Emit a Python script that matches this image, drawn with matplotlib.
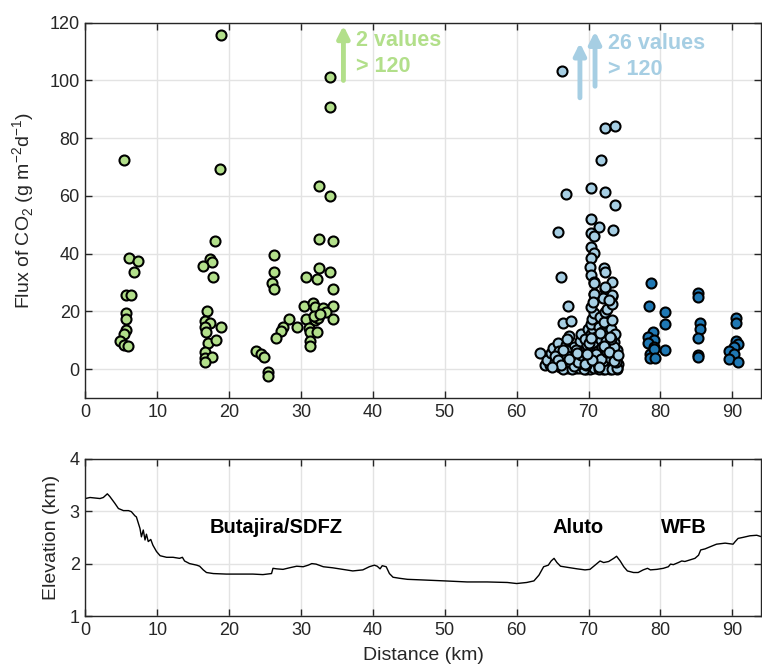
import numpy as np
import matplotlib
matplotlib.use("Agg")
import matplotlib.pyplot as plt

plt.rcParams['font.family'] = ['Liberation Sans', 'DejaVu Sans']
plt.rcParams['mathtext.fontset'] = 'custom'
plt.rcParams['mathtext.rm'] = 'Liberation Sans'

# --- CO2 flux, Butajira / SDFZ (green)
green_x = [18.9, 5.4, 18.8, 18.0, 6.1, 7.3, 6.7, 5.65, 6.4, 5.7, 5.7, 5.7, 5.4, 4.8, 5.4, 6.0,
           17.3, 17.6, 16.4, 17.8, 16.9, 16.7, 17.3, 18.9, 16.7, 16.8, 17.0, 18.2, 16.7, 16.7, 17.6, 16.7,
           34.1, 34.1, 32.5, 34.1, 32.5, 34.4, 26.3, 26.3, 32.5, 34.1, 30.7, 32.2, 25.9, 26.3, 34.4,
           30.4, 31.7, 32.0, 33.1, 34.4, 33.5, 30.7, 31.9, 32.5, 32.0, 34.4, 28.3, 27.5, 27.2, 29.4,
           26.5, 31.1, 31.2, 32.2, 31.2, 31.2, 23.8, 24.4, 24.9, 25.4, 25.4, 32.1, 32.4, 31.8, 32.7]
green_y = [115.9, 72.4, 69.2, 44.3, 38.4, 37.6, 33.7, 25.8, 25.8, 19.4, 17.3, 13.4, 12.0, 9.7, 8.2, 8.1,
           38.2, 37.0, 35.7, 31.8, 20.1, 16.6, 15.9, 14.7, 14.5, 12.7, 9.0, 10.2, 6.0, 3.7, 4.2, 2.3,
           101.3, 90.9, 63.4, 60.0, 45.0, 44.4, 39.7, 33.7, 35.2, 33.7, 31.8, 31.1, 29.8, 27.9, 27.9,
           22.0, 22.8, 21.5, 21.2, 22.0, 19.8, 17.3, 17.6, 18.7, 16.9, 17.3, 17.3, 14.7, 13.3, 14.7,
           10.7, 14.2, 12.9, 12.8, 9.6, 8.1, 6.3, 5.2, 4.2, -0.9, -2.3, 18.0, 17.8, 18.5, 19.0]

# --- CO2 flux, Aluto (light blue)
aluto_x = [66.25, 72.3, 73.7, 71.8, 66.8, 70.4, 72.3, 73.7, 70.4, 71.5, 65.7, 70.4, 70.7, 73.4,
           70.4, 70.7, 70.4, 70.2, 70.4, 70.7, 72.2, 72.3, 73.2, 72.3, 73.2, 70.7, 72.0, 66.2,
           67.1, 66.5, 67.6, 67.3, 70.8, 72.3, 70.7, 73.2,
           63.3, 64.0, 64.6, 64.2, 64.8, 65.0, 65.7, 65.4, 65.9, 66.3, 66.0, 66.6, 66.8, 67.0,
           66.8, 67.2, 67.5, 67.8, 68.0, 68.3, 68.5, 68.8, 68.9, 69.2, 69.0, 69.4, 69.6, 69.8,
           69.9, 70.0, 69.5,
           70.2, 70.3, 70.4, 70.5, 70.4, 70.6, 70.4, 70.5, 70.7, 70.4, 70.6, 70.3, 70.8, 70.9,
           71.0, 71.1, 71.2, 71.3, 71.4, 71.5, 71.6, 71.7, 71.8, 71.9, 72.0, 72.1, 72.2, 72.3,
           72.4, 72.5, 72.6, 72.7, 72.8, 72.9, 73.0, 73.1, 73.2, 73.3, 73.4, 73.5, 73.6, 73.7,
           73.8, 73.9, 74.0, 74.1, 73.2, 72.9,
           66.5, 67.7, 68.7, 69.3, 70.7, 71.5, 72.3, 73.3, 73.9, 65.3, 67.9, 69.1, 71.0, 72.6,
           73.6, 70.1, 71.3, 72.0, 73.0, 68.2, 69.7, 70.9, 72.4, 73.8, 66.9, 68.5, 70.6, 71.9,
           65.8, 66.2, 67.0, 67.4, 68.0, 68.6, 69.0, 69.9, 70.3, 71.1, 71.8, 72.5, 73.1, 73.7,
           64.9, 66.4, 67.3, 68.4, 69.5, 70.5, 71.4, 72.1, 72.8, 73.5, 74.1, 69.8, 71.6, 73.0]
aluto_y = [103.3, 83.7, 84.3, 72.4, 60.7, 62.6, 61.2, 56.9, 52.0, 49.3, 47.5, 47.1, 46.1, 48.2,
           42.2, 40.4, 38.4, 35.5, 32.6, 30.3, 34.9, 33.8, 30.3, 27.7, 25.4, 26.1, 24.6, 31.8,
           22.0, 16.1, 16.6, 11.5, 30.0, 28.6, 26.0, 25.7,
           5.7, 1.5, 1.5, 3.0, 5.5, 7.3, 9.0, 2.5, 6.2, 4.0, 0.8, 1.2, 8.5, 10.5,
           2.8, 0.5, 5.0, 2.0, 7.5, 0.3, 4.2, 9.8, 1.0, 6.0, 12.0, 3.2, 0.2, 8.3,
           14.0, 2.5, 10.5,
           0.1, 4.6, 7.0, 9.5, 12.0, 13.8, 15.5, 17.5, 19.5, 21.5, 23.3, 2.0, 5.8, 1.0,
           11.0, 3.5, 8.0, 0.4, 14.5, 6.5, 18.0, 2.2, 10.0, 12.8, 0.0, 4.8, 16.3, 19.8,
           7.2, 1.5, 21.0, 11.8, 3.0, 8.8, 0.2, 14.0, 5.2, 17.0, 2.0, 9.5, 0.5, 12.0,
           3.8, 6.8, 0.0, 1.8, 22.5, 24.0,
           0.2, 0.1, 0.4, 0.0, 0.3, 0.0, 0.2, 0.1, 0.3, 4.5, 3.5, 4.8, 6.0, 5.5,
           7.5, 9.0, 1.8, 2.8, 4.0, 6.8, 1.4, 3.0, 9.8, 2.5, 6.5, 1.8, 4.0, 7.8,
           3.2, 1.6, 4.4, 2.4, 1.2, 2.6, 5.0, 3.8, 10.8, 5.4, 3.4, 5.9, 10.4, 4.4,
           0.6, 6.8, 3.6, 5.6, 1.9, 3.1, 0.9, 8.0, 6.0, 2.9, 4.9, 5.2, 12.4, 11.2]

# --- CO2 flux, WFB (dark blue)
wfb_x = [78.7, 78.4, 78.9, 78.3, 79.1, 78.3, 79.1, 78.5, 79.1, 78.5, 79.2, 80.7, 80.7, 80.7,
         85.2, 85.2, 85.5, 85.5, 85.2, 85.2, 85.2,
         90.5, 90.5, 90.5, 90.8, 90.3, 89.6, 90.2, 89.6, 90.8]
wfb_y = [29.8, 22.0, 12.8, 11.3, 10.1, 9.2, 7.8, 5.3, 7.0, 3.8, 3.7, 19.9, 15.6, 6.7,
         26.3, 25.1, 16.1, 13.9, 10.9, 4.9, 4.2,
         17.6, 16.1, 9.6, 8.8, 7.8, 6.3, 5.2, 3.5, 2.3]

# --- elevation profile along the transect
dist_km = [0, 0.65, 2.04, 2.5, 3.06, 3.4, 4.1, 4.6, 5.3, 6.0, 6.4, 6.9, 7.1, 7.6, 7.8, 8.06,
           8.3, 8.5, 8.75, 9.1, 9.4, 9.9, 10.4, 11.3, 12.2, 13.1, 13.5, 13.8, 14.5, 15.5, 15.9,
           16.4, 16.85, 17.8, 19.6, 21.5, 23.3, 24.7, 25.9, 26.1, 26.6, 27.5, 28.4, 29.4, 30.3,
           31.0, 31.5, 32.1, 33.1, 34.4, 35.8, 37.2, 38.6, 39.5, 40.2, 40.6, 41.0, 41.3, 41.85,
           42.3, 42.8, 43.7, 44.8, 46.6, 50.0, 53.1, 55.9, 58.7, 60.0, 61.4, 62.4, 63.1, 63.75,
           64.4, 64.8, 65.2, 65.6, 66.1, 67.0, 68.4, 69.5, 70.2, 70.9, 71.6, 72.1, 72.8, 73.5,
           73.9, 74.4, 74.9, 75.4, 76.25, 76.9, 77.6, 78.2, 78.6, 79.5, 80.4, 81.1, 81.4, 81.8,
           82.5, 82.96, 83.4, 84.1, 84.8, 85.3, 85.6, 86.2, 86.9, 87.8, 89.0, 90.1, 90.4, 90.8,
           91.5, 92.45, 93.4, 94.1]
elev_km = [3.24, 3.26, 3.24, 3.26, 3.33, 3.28, 3.15, 3.05, 3.01, 3.01, 2.99, 2.91, 2.89, 2.67,
           2.51, 2.64, 2.45, 2.56, 2.42, 2.46, 2.35, 2.23, 2.15, 2.12, 2.12, 2.10, 2.12, 2.05,
           2.00, 1.97, 1.95, 1.88, 1.83, 1.81, 1.80, 1.80, 1.80, 1.79, 1.81, 1.91, 1.90, 1.89,
           1.92, 1.95, 1.94, 1.97, 2.00, 1.99, 1.94, 1.92, 1.89, 1.86, 1.88, 1.94, 1.97, 1.95,
           1.90, 1.96, 1.94, 1.81, 1.74, 1.72, 1.70, 1.69, 1.67, 1.65, 1.65, 1.64, 1.62, 1.64,
           1.67, 1.78, 1.94, 1.97, 2.05, 2.10, 2.02, 1.95, 1.93, 1.90, 1.88, 1.89, 1.97, 2.05,
           2.02, 2.04, 2.10, 2.14, 2.05, 1.94, 1.86, 1.83, 1.83, 1.88, 1.91, 1.88, 1.89, 1.91,
           1.94, 1.99, 1.98, 2.02, 2.05, 2.04, 2.07, 2.10, 2.16, 2.26, 2.28, 2.32, 2.37, 2.39,
           2.37, 2.42, 2.48, 2.50, 2.53, 2.54, 2.51]

region_names = ['Butajira/SDFZ', 'Aluto', 'WFB']
region_pos = [26.6, 68.6, 83.2]

GREEN = '#b2df8a'
LIGHTBLUE = '#a6cee3'
DARKBLUE = '#1f78b4'
AXCOL = '#262626'

fig = plt.figure(figsize=(7.62, 6.66), dpi=100)
ax1 = fig.add_axes([0.112, 0.4024, 0.8868, 0.5635])
ax2 = fig.add_axes([0.112, 0.075, 0.8868, 0.2363])


def style_axes(ax):
    ax.grid(True, color='#e3e3e3', linewidth=1.0)
    ax.set_axisbelow(True)
    ax.tick_params(direction='in', top=True, right=True, length=5, width=1,
                   colors=AXCOL, labelsize=13, pad=4)
    for sp in ax.spines.values():
        sp.set_color(AXCOL)
        sp.set_linewidth(1.0)


mk = dict(s=52, edgecolors='black', linewidths=1.5, zorder=3)
ax1.scatter(green_x, green_y, c=GREEN, **mk)
ax1.scatter(aluto_x, aluto_y, c=LIGHTBLUE, **mk)
ax1.scatter(wfb_x, wfb_y, c=DARKBLUE, **mk)

# arrows for values beyond the axis
arr = dict(arrowstyle='-|>,head_length=0.7,head_width=0.35', lw=3.5, shrinkA=0, shrinkB=0)
ax1.annotate('', xy=(35.9, 119), xytext=(35.9, 100),
             arrowprops=dict(color=GREEN, **arr))
ax1.annotate('', xy=(68.8, 113), xytext=(68.8, 94),
             arrowprops=dict(color=LIGHTBLUE, **arr))
ax1.annotate('', xy=(70.9, 117), xytext=(70.9, 98),
             arrowprops=dict(color=LIGHTBLUE, **arr))
ax1.text(37.7, 117.5, '2 values\n> 120', color=GREEN, fontsize=15.5, fontweight='bold',
         va='top', ha='left', linespacing=1.3)
ax1.text(72.7, 116.5, '26 values\n> 120', color=LIGHTBLUE, fontsize=15.5, fontweight='bold',
         va='top', ha='left', linespacing=1.3)

ax1.set_xlim(0, 94)
ax1.set_ylim(-10, 120)
ax1.set_xticks(np.arange(0, 91, 10))
ax1.set_yticks(np.arange(0, 121, 20))
ax1.set_ylabel('Flux of CO$_2$ (g m$^{-2}$d$^{-1}$)', fontsize=14, color=AXCOL)
ax1.yaxis.set_label_coords(-0.072, 0.5)
style_axes(ax1)

ax2.plot(dist_km, elev_km, color='black', linewidth=1.0)
for name, xpos in zip(region_names, region_pos):
    ax2.text(xpos, 2.69, name, ha='center', va='center', fontsize=14.5, fontweight='bold')
ax2.set_xlim(0, 94)
ax2.set_ylim(1, 4)
ax2.set_xticks(np.arange(0, 91, 10))
ax2.set_yticks([1, 2, 3, 4])
ax2.set_xlabel('Distance (km)', fontsize=14, color=AXCOL, labelpad=6)
ax2.set_ylabel('Elevation (km)', fontsize=14, color=AXCOL)
ax2.yaxis.set_label_coords(-0.037, 0.5)
style_axes(ax2)

fig.savefig('out.png', dpi=100)
